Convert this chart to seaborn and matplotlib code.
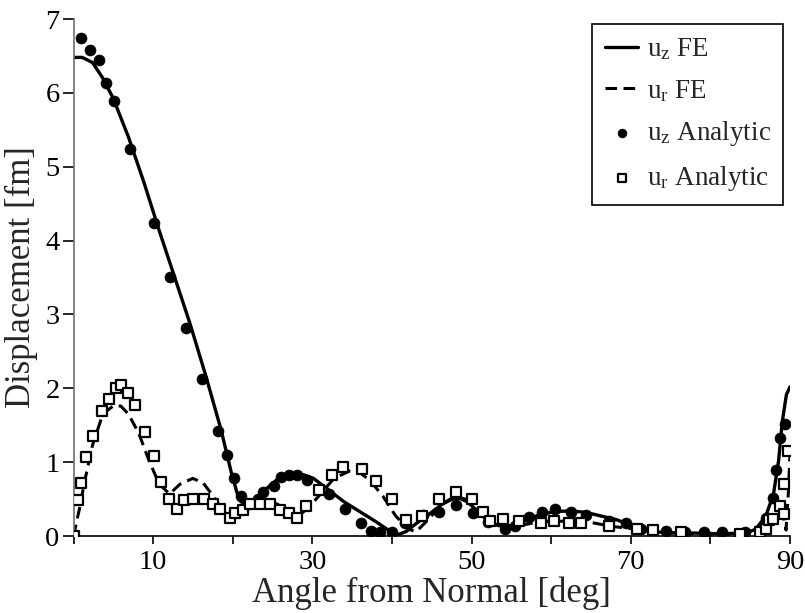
import numpy as np
import pandas as pd
import matplotlib
matplotlib.use("Agg")
import matplotlib.pyplot as plt
import seaborn as sns

# ---------------- data ----------------
uz_fe_deg = [0.0, 1.1, 2.39, 3.68, 4.97, 6.91, 8.84, 10.78, 12.72, 14.65, 16.59, 18.53, 19.82,
             20.79, 21.43, 22.4, 23.69, 25.63, 27.57, 28.86, 30.15, 32.09, 34.02, 35.96, 37.9,
             39.83, 40.8, 41.77, 43.06, 44.35, 46.29, 47.58, 48.55, 49.52, 50.81, 52.1, 53.39,
             55.33, 56.62, 58.55, 60.49, 62.43, 64.36, 66.3, 68.24, 70.17, 72.11, 74.69, 77.92,
             81.15, 84.38, 85.67, 86.96, 87.93, 88.57, 89.02, 89.54, 90.0]
uz_fe_val = [6.48, 6.48, 6.41, 6.2, 5.93, 5.4, 4.79, 4.13, 3.5, 2.87, 2.18, 1.44, 0.86,
             0.49, 0.43, 0.46, 0.59, 0.77, 0.83, 0.83, 0.78, 0.62, 0.46, 0.33, 0.2,
             0.06, 0.02, 0.06, 0.17, 0.27, 0.43, 0.5, 0.51, 0.46, 0.33, 0.2, 0.14,
             0.14, 0.2, 0.29, 0.33, 0.34, 0.32, 0.27, 0.22, 0.14, 0.07, 0.04, 0.04,
             0.03, 0.04, 0.09, 0.27, 0.57, 1.02, 1.54, 1.91, 2.02]

ur_fe_deg = [0.0, 0.77, 1.42, 2.39, 3.68, 4.97, 5.94, 6.91, 8.2, 9.49, 10.78, 12.07, 13.36,
             14.98, 16.27, 17.56, 18.85, 20.14, 21.43, 22.72, 24.34, 25.63, 26.92, 28.21,
             29.5, 31.12, 32.73, 34.67, 35.96, 37.25, 38.86, 40.48, 42.09, 43.06, 44.35,
             46.29, 47.9, 49.19, 50.81, 52.42, 54.03, 55.97, 57.91, 59.84, 61.78, 63.72,
             65.66, 67.59, 70.17, 72.76, 75.99, 79.86, 83.73, 85.67, 86.96, 87.93, 88.6,
             89.2, 89.5, 89.8, 90.0]
ur_fe_val = [0.0, 0.38, 0.75, 1.23, 1.65, 1.76, 1.76, 1.65, 1.39, 1.02, 0.7, 0.57, 0.7,
             0.78, 0.72, 0.54, 0.33, 0.23, 0.35, 0.46, 0.48, 0.43, 0.34, 0.27,
             0.38, 0.58, 0.78, 0.88, 0.86, 0.75, 0.54, 0.27, 0.09, 0.06, 0.2,
             0.43, 0.54, 0.5, 0.33, 0.17, 0.12, 0.14, 0.18, 0.2, 0.2, 0.21,
             0.17, 0.13, 0.1, 0.06, 0.04, 0.02, 0.02, 0.04, 0.12, 0.27, 0.36,
             0.25, 0.08, 0.6, 1.12]

uz_an_deg = [0.9, 2.07, 3.16, 4.13, 5.04, 7.1, 10.07, 12.07, 14.14, 16.2, 18.14, 19.24, 20.14,
             21.05, 22.0, 23.2, 23.8, 25.2, 26.1, 27.05, 28.08, 29.37, 32.08, 34.09, 36.09,
             37.38, 38.54, 39.96, 41.7, 43.84, 45.9, 48.03, 50.16, 52.1, 54.23, 55.45, 57.26,
             58.88, 60.49, 62.43, 64.36, 67.27, 69.4, 71.34, 74.37, 76.8, 79.2, 81.5, 84.4,
             86.96, 87.9, 88.3, 88.7, 89.35]
uz_an_val = [6.74, 6.58, 6.45, 6.13, 5.89, 5.24, 4.24, 3.51, 2.81, 2.13, 1.42, 1.09, 0.79,
             0.54, 0.43, 0.5, 0.6, 0.68, 0.8, 0.82, 0.82, 0.76, 0.57, 0.36, 0.17,
             0.07, 0.05, 0.05, 0.17, 0.28, 0.33, 0.42, 0.31, 0.19, 0.1, 0.13, 0.26,
             0.32, 0.36, 0.33, 0.28, 0.2, 0.17, 0.09, 0.07, 0.06, 0.06, 0.06, 0.06,
             0.25, 0.52, 0.9, 1.33, 1.52]

ur_an_deg = [0.0, 0.58, 0.97, 1.6, 2.5, 3.6, 4.45, 5.36, 6.0, 6.9, 7.7, 9.04, 10.07, 10.97,
             11.94, 12.98, 13.88, 15.04, 16.4, 17.5, 18.46, 19.6, 20.3, 21.24, 22.14, 23.43,
             24.73, 25.95, 27.1, 28.08, 29.2, 30.9, 32.5, 33.9, 36.3, 38.0, 40.0, 41.8, 43.8,
             45.9, 48.0, 50.0, 51.5, 52.3, 53.9, 56.0, 58.7, 60.4, 62.3, 63.8, 67.3, 70.8,
             72.8, 76.3, 83.7, 86.2, 87.0, 87.3, 87.9, 88.7, 89.2, 89.3, 89.7]
ur_an_val = [0.0, 0.49, 0.72, 1.07, 1.35, 1.69, 1.86, 2.0, 2.05, 1.93, 1.77, 1.41, 1.08, 0.73,
             0.5, 0.37, 0.49, 0.5, 0.5, 0.44, 0.37, 0.24, 0.31, 0.35, 0.43, 0.43,
             0.43, 0.35, 0.31, 0.24, 0.41, 0.62, 0.82, 0.93, 0.91, 0.74, 0.5, 0.21, 0.27,
             0.5, 0.6, 0.5, 0.32, 0.2, 0.23, 0.2, 0.18, 0.2, 0.18, 0.18, 0.13, 0.1,
             0.08, 0.06, 0.03, 0.06, 0.09, 0.22, 0.23, 0.4, 0.71, 0.3, 1.15]

x_ticks = [0, 10, 20, 30, 40, 50, 60, 70, 80, 90]
x_tick_labels = ["", "10", "", "30", "", "50", "", "70", "", "90"]
y_ticks = [0, 1, 2, 3, 4, 5, 6, 7]

# ---------------- style ----------------
sns.set_theme(style="ticks")
plt.rcParams["font.family"] = ["Liberation Serif", "DejaVu Serif"]
plt.rcParams["mathtext.fontset"] = "custom"
plt.rcParams["mathtext.rm"] = "Liberation Serif"
plt.rcParams["mathtext.it"] = "Liberation Serif"

W, H = 805, 613
fig = plt.figure(figsize=(W / 100, H / 100), dpi=100)
ax_left, ax_right, ax_top, ax_bottom = 73.5, 790, 19, 536
ax = fig.add_axes([ax_left / W, 1 - ax_bottom / H,
                   (ax_right - ax_left) / W, (ax_bottom - ax_top) / H])

uz_fe = pd.DataFrame({"deg": uz_fe_deg, "val": uz_fe_val})
ur_fe = pd.DataFrame({"deg": ur_fe_deg, "val": ur_fe_val})
uz_an = pd.DataFrame({"deg": uz_an_deg, "val": uz_an_val})
ur_an = pd.DataFrame({"deg": ur_an_deg, "val": ur_an_val})

sns.lineplot(data=uz_fe, x="deg", y="val", ax=ax, color="black", linewidth=2.4,
             sort=False, label=r"u$_{\mathrm{z}}$ FE")
sns.lineplot(data=ur_fe, x="deg", y="val", ax=ax, color="black", linewidth=2.2,
             sort=False, linestyle=(0, (3.8, 2.1)), label=r"u$_{\mathrm{r}}$ FE")
sns.scatterplot(data=uz_an, x="deg", y="val", ax=ax, color="black", marker="o", s=62,
                edgecolor="black", linewidth=0.5, label=r"u$_{\mathrm{z}}$ Analytic", zorder=3)
sns.scatterplot(data=ur_an, x="deg", y="val", ax=ax, marker="s", s=42,
                facecolor="white", edgecolor="black", linewidth=1.6,
                label=r"u$_{\mathrm{r}}$ Analytic", zorder=4)

ax.set_xlim(0, 90)
ax.set_ylim(0, 7)
ax.set_xticks(x_ticks)
ax.set_xticklabels(x_tick_labels)
ax.set_yticks(y_ticks)
ax.tick_params(axis="both", labelsize=20.5, width=1.2, color="black",
               direction="out")
ax.tick_params(axis="x", length=6, pad=4)
ax.tick_params(axis="y", length=8, pad=2)
ax.set_xlabel("Angle from Normal [deg]", fontsize=25, labelpad=1)
ax.set_ylabel("Displacement [fm]", fontsize=25, labelpad=5)
for lab in ax.get_xticklabels() + ax.get_yticklabels():
    lab.set_color("black")

sns.despine(ax=ax)
ax.spines["left"].set_color("#707070")
ax.spines["left"].set_linewidth(1.2)
ax.spines["bottom"].set_color("black")
ax.spines["bottom"].set_linewidth(1.2)
ax.grid(False)

leg = ax.legend(loc="upper right", bbox_to_anchor=(783 / W, 1 - 24 / H),
                bbox_transform=fig.transFigure, fontsize=19.5,
                frameon=True, fancybox=False, edgecolor="black", framealpha=1,
                handlelength=1.25, handletextpad=0.3, borderpad=0.45,
                labelspacing=0.58, borderaxespad=0.0, markerscale=0.8)
leg.get_frame().set_linewidth(1.2)

fig.savefig("out.png", dpi=100)
